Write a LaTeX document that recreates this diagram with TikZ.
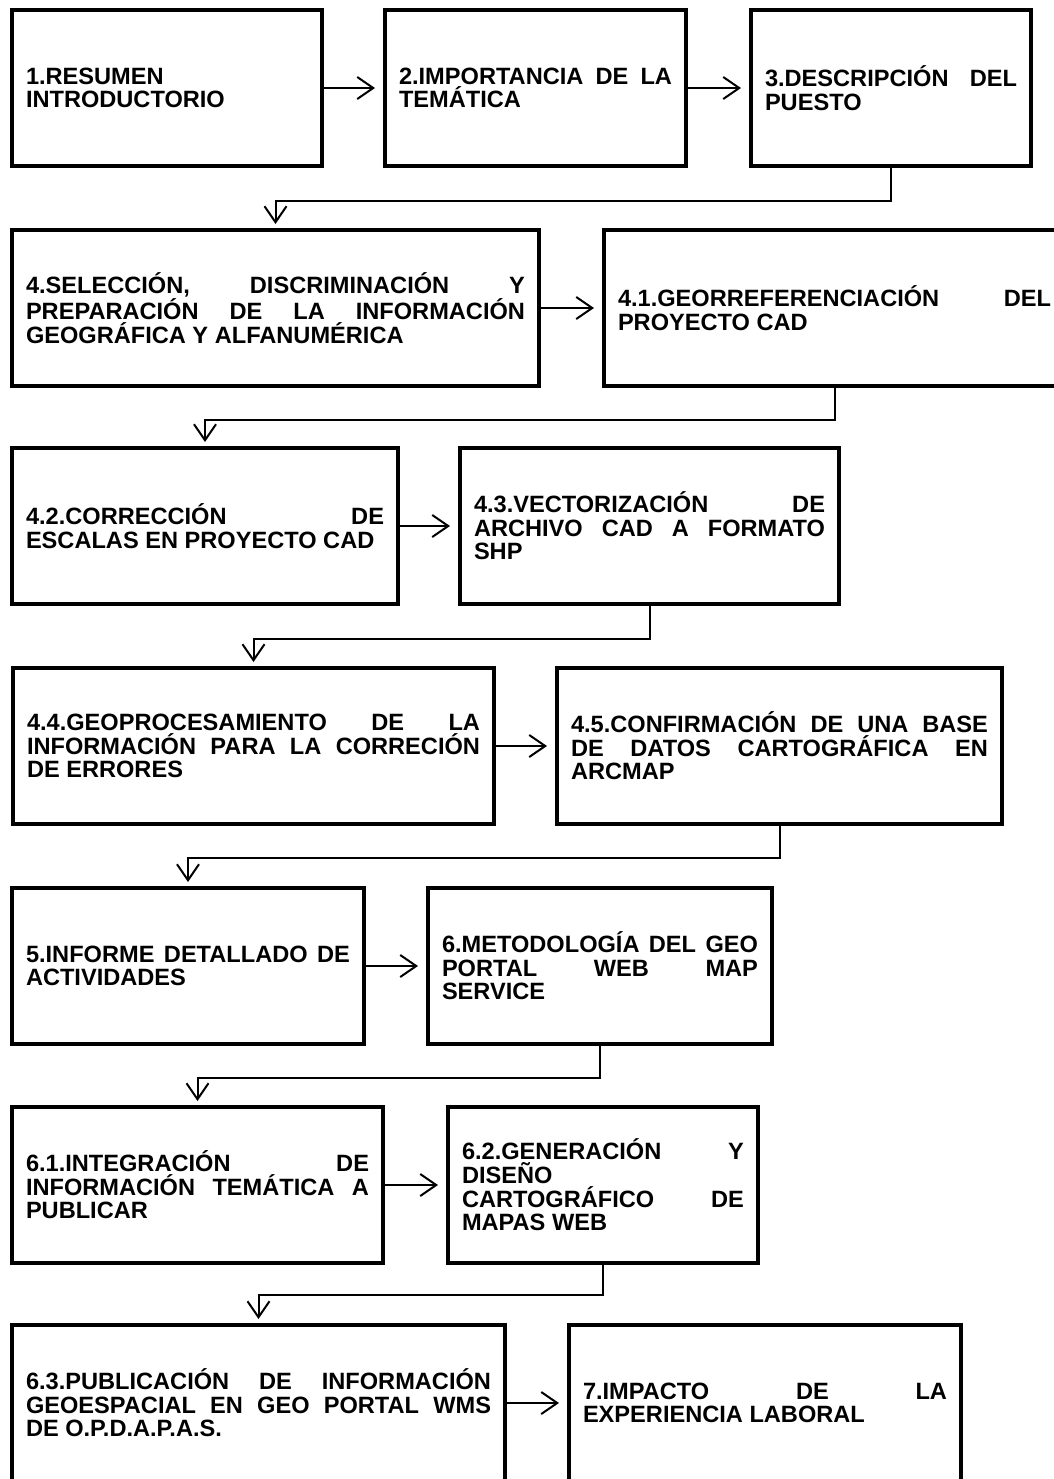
\documentclass[tikz,border=0pt]{standalone}
\usepackage{fontspec}
\setmainfont{Liberation Sans}
\usepackage{tikz}
\usetikzlibrary{arrows.meta,positioning}

\begin{document}
\begin{tikzpicture}[x=0.5pt, y=-0.5pt,
    stepbox/.style={draw, line width=2pt, align=justify, inner xsep=7pt, inner ysep=0pt,
      minimum height=78pt, font=\bfseries\fontsize{11.8}{11.8}\selectfont},
    flow/.style={-{Straight Barb[length=8pt,width=11pt]}, line width=1pt, shorten >=4pt},
    link/.style={flow, shorten >=2pt}]
    \useasboundingbox (0,0) rectangle (1054,1479);

    % Row 1
    \node[stepbox, text width=141pt] (res) at (167,88) {1.RESUMEN\linebreak INTRODUCTORIO};
    \node[stepbox, text width=136.5pt] (imp) at (535.5,88) {2.IMPORTANCIA~DE~LA\linebreak TEMÁTICA};
    \node[stepbox, text width=126pt] (desc) at (891,88) {3.DESCRIPCIÓN~DEL\linebreak PUESTO};

    % Row 2
    \node[stepbox, text width=249.5pt] (sel) at (275.5,308) {4.SELECCIÓN,~DISCRIMINACIÓN~Y\linebreak PREPARACIÓN~DE~LA~INFORMACIÓN\linebreak GEOGRÁFICA~Y~ALFANUMÉRICA};
    \node[stepbox, text width=216.5pt] (geo) at (834.5,308) {4.1.GEORREFERENCIACIÓN~DEL\linebreak PROYECTO~CAD};

    % Row 3
    \node[stepbox, text width=179pt] (esc) at (205,526) {4.2.CORRECCIÓN~DE\linebreak ESCALAS~EN~PROYECTO~CAD};
    \node[stepbox, text width=175.5pt] (vec) at (649.5,526) {4.3.VECTORIZACIÓN~DE\linebreak ARCHIVO~CAD~A~FORMATO\linebreak SHP};

    % Row 4
    \node[stepbox, text width=226.5pt] (proc) at (253.5,746) {4.4.GEOPROCESAMIENTO~DE~LA\linebreak INFORMACIÓN~PARA~LA~CORRECIÓN\linebreak DE~ERRORES};
    \node[stepbox, text width=208.5pt] (base) at (779.5,746) {4.5.CONFIRMACIÓN~DE~UNA~BASE\linebreak DE~DATOS~CARTOGRÁFICA~EN\linebreak ARCMAP};

    % Row 5
    \node[stepbox, text width=162pt] (inf) at (188,966) {5.INFORME~DETALLADO~DE\linebreak ACTIVIDADES};
    \node[stepbox, text width=158pt] (met) at (600,966) {6.METODOLOGÍA~DEL~GEO\linebreak PORTAL~WEB~MAP\linebreak SERVICE};

    % Row 6
    \node[stepbox, text width=171.5pt] (integ) at (197.5,1185) {6.1.INTEGRACIÓN~DE\linebreak INFORMACIÓN~TEMÁTICA~A\linebreak PUBLICAR};
    \node[stepbox, text width=141pt] (gen) at (603,1185) {6.2.GENERACIÓN~Y\linebreak DISEÑO\linebreak CARTOGRÁFICO~DE\linebreak MAPAS~WEB};

    % Row 7
    \node[stepbox, text width=232.5pt] (pub) at (258.5,1403) {6.3.PUBLICACIÓN~DE~INFORMACIÓN\linebreak GEOESPACIAL~EN~GEO~PORTAL~WMS\linebreak DE~O.P.D.A.P.A.S.};
    \node[stepbox, text width=182pt] (exp) at (765,1403) {7.IMPACTO~DE~LA\linebreak EXPERIENCIA~LABORAL};

    % Arrows within rows
    \draw[flow] (res) -- (imp);
    \draw[flow] (imp) -- (desc);
    \draw[flow] (sel) -- (geo);
    \draw[flow] (esc) -- (vec);
    \draw[flow] (proc) -- (base);
    \draw[flow] (inf) -- (met);
    \draw[flow] (integ) -- (gen);
    \draw[flow] (pub) -- (exp);

    % Links between rows
    \draw[link] (desc.south) -- ++(0,33) -| (sel.north);
    \draw[link] (geo.south) -- ++(0,32) -| (esc.north);
    \draw[link] (vec.south) -- ++(0,33) -| (proc.north);
    \draw[link] (base.south) -- ++(0,32) -| (inf.north);
    \draw[link] (met.south) -- ++(0,32) -| (integ.north);
    \draw[link] (gen.south) -- ++(0,30) -| (pub.north);
\end{tikzpicture}
\end{document}
